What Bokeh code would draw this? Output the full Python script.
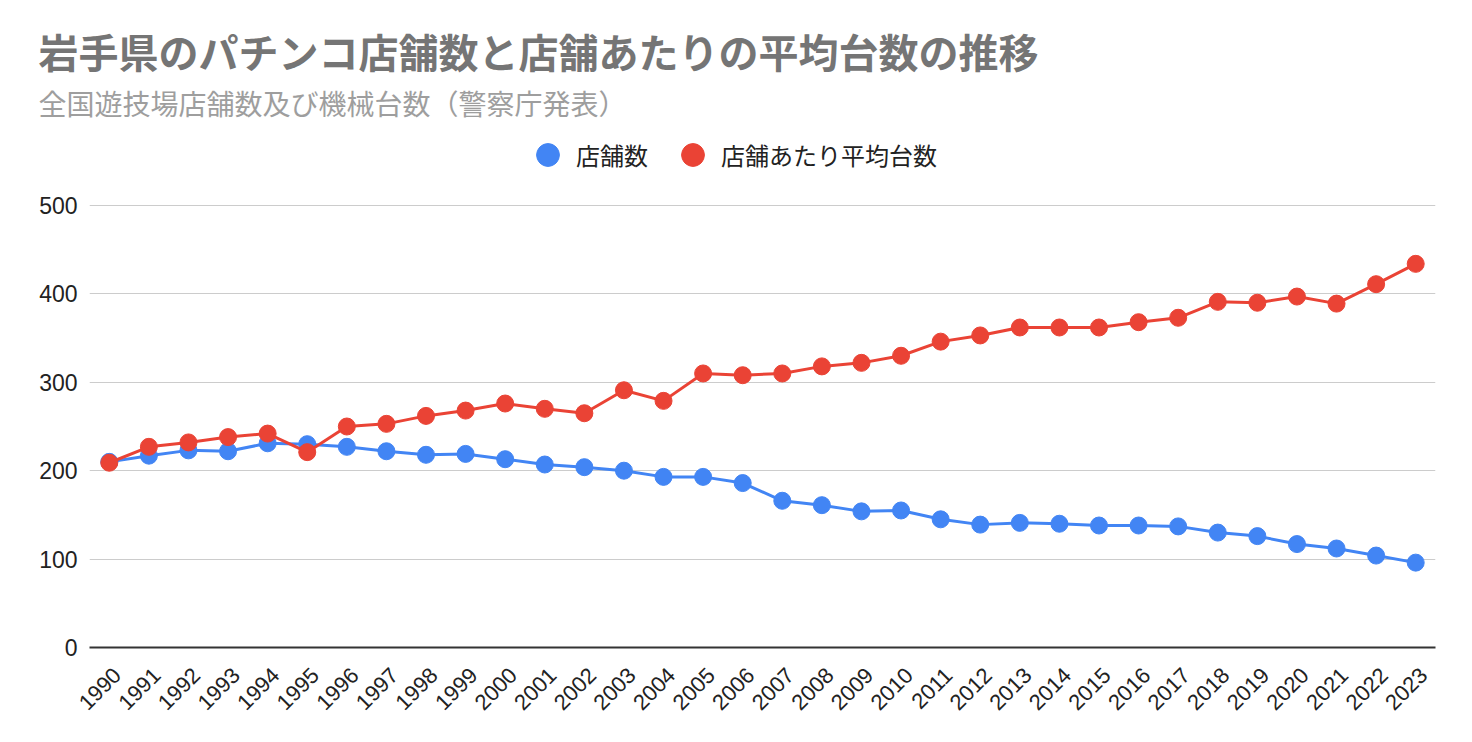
from bokeh.plotting import figure
from bokeh.models import Legend, LegendItem, Title, Range1d, LinearAxis, FixedTicker
from bokeh.embed import file_html
from bokeh.resources import INLINE
import math

years = list(range(1990, 2024))
stores = [210, 217, 223, 222, 231, 230, 227, 222, 218, 219, 213, 207, 204, 200, 193, 193, 186,
          166, 161, 154, 155, 145, 139, 141, 140, 138, 138, 137, 130, 126, 117, 112, 104, 96]
avg_machines = [209, 227, 232, 238, 242, 221, 250, 253, 262, 268, 276, 270, 265, 291, 279, 310, 308,
                310, 318, 322, 330, 346, 353, 362, 362, 362, 368, 373, 391, 390, 397, 389, 411, 434]
y_ticks = [0, 100, 200, 300, 400, 500]

title_text = "岩手県のパチンコ店舗数と店舗あたりの平均台数の推移"
subtitle_text = "全国遊技場店舗数及び機械台数（警察庁発表）"
series_names = ["店舗数", "店舗あたり平均台数"]
BLUE = "#4285F4"
RED = "#EA4335"

# frame extends above the 500 gridline so the legend sits inside it
FRAME_TOP = 123
Y_TOP = 500 * (647 - FRAME_TOP) / 442.0

p = figure(width=1456, height=726, x_range=Range1d(years[0] - 0.5, years[-1] + 0.5),
           y_range=Range1d(0, Y_TOP), x_axis_location=None,
           output_backend="svg", toolbar_location=None, title=None,
           min_border_left=89, min_border_right=21, min_border_top=FRAME_TOP, min_border_bottom=79)
p.outline_line_color = None
p.background_fill_color = "white"
p.border_fill_color = "white"

p.line(years, stores, line_color=BLUE, line_width=3)
r1 = p.scatter(years, stores, size=17, fill_color=BLUE, line_color=BLUE)
p.line(years, avg_machines, line_color=RED, line_width=3)
r2 = p.scatter(years, avg_machines, size=17, fill_color=RED, line_color=RED)

for g in p.grid:
    if g.dimension == 0:
        g.grid_line_color = None
    else:
        g.grid_line_color = "#cccccc"
        g.grid_line_width = 1
p.yaxis.ticker = FixedTicker(ticks=y_ticks)
p.yaxis.axis_line_color = None
p.yaxis.major_tick_line_color = None
p.yaxis.minor_tick_line_color = None
p.yaxis.major_label_text_font_size = "23px"
p.yaxis.major_label_text_color = "#222222"
p.yaxis.major_label_text_font = "Liberation Sans"
p.yaxis.major_label_standoff = 6

# x axis on a slightly shifted range so rotated labels sit like the reference
shift = 0.2
p.extra_x_ranges = {"lab": Range1d(years[0] - 0.5 - shift, years[-1] + 0.5 - shift)}
xaxis = LinearAxis(x_range_name="lab", ticker=FixedTicker(ticks=years))
xaxis.axis_line_color = "#333333"
xaxis.axis_line_width = 2
xaxis.major_tick_line_color = None
xaxis.minor_tick_line_color = None
xaxis.major_label_orientation = math.pi / 4
xaxis.major_label_text_font_size = "22px"
xaxis.major_label_text_color = "#222222"
xaxis.major_label_text_font = "Liberation Sans"
xaxis.major_label_standoff = 18
p.add_layout(xaxis, "below")

legend = Legend(items=[LegendItem(label=series_names[0], renderers=[r1]),
                       LegendItem(label=series_names[1], renderers=[r2])],
                location=(430, 464), orientation="horizontal",
                glyph_width=57, glyph_height=57, label_standoff=0, spacing=16,
                padding=0, margin=0, border_line_color=None, background_fill_alpha=0,
                label_text_font="Noto Sans CJK JP", label_text_font_size="24px",
                label_text_color="#222222")
p.add_layout(legend, "center")

p.add_layout(Title(text=subtitle_text, align="left", offset=-51, standoff=2,
                   text_font="Noto Sans CJK JP", text_font_size="28px", text_font_style="normal",
                   text_color="#9e9e9e"), "above")
p.add_layout(Title(text=title_text, align="left", offset=-51, standoff=0,
                   text_font="Noto Sans CJK JP", text_font_size="40px", text_font_style="bold",
                   text_color="#757575"), "above")

open("out.html", "w").write(file_html(p, INLINE))
